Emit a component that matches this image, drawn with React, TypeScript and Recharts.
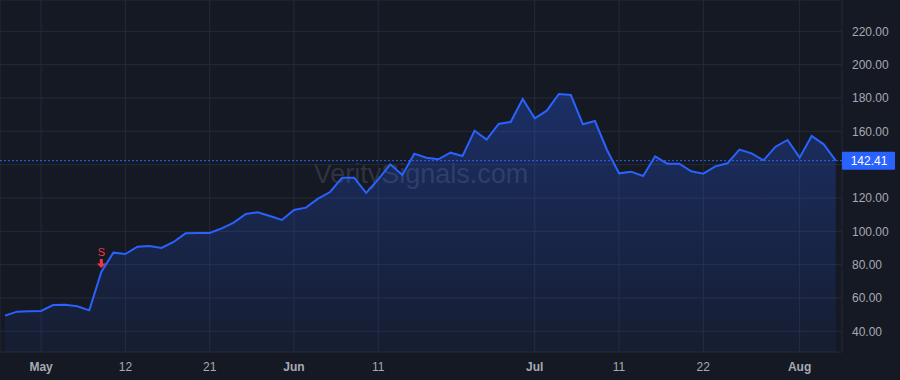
import { ComposedChart, Area, XAxis, YAxis, CartesianGrid, ReferenceLine, ReferenceDot } from 'recharts';

// trading days, Apr 28 - Aug 6
const dates = [
    '04-28', '04-29', '04-30', '05-01', '05-02', '05-05', '05-06', '05-07', '05-08', '05-09',
    '05-12', '05-13', '05-14', '05-15', '05-16', '05-19', '05-20', '05-21', '05-22', '05-23',
    '05-27', '05-28', '05-29', '05-30', '06-02', '06-03', '06-04', '06-05', '06-06', '06-09',
    '06-10', '06-11', '06-12', '06-13', '06-16', '06-17', '06-18', '06-20', '06-23', '06-24',
    '06-25', '06-26', '06-27', '06-30', '07-01', '07-02', '07-03', '07-07', '07-08', '07-09',
    '07-10', '07-11', '07-14', '07-15', '07-16', '07-17', '07-18', '07-21', '07-22', '07-23',
    '07-24', '07-25', '07-28', '07-29', '07-30', '07-31', '08-01', '08-04', '08-05', '08-06',
];

const prices = [
    49.4, 51.8, 52.0, 52.2, 55.8, 56.0, 55.0, 52.6, 75.6, 87.2,
    86.4, 90.8, 91.2, 90.0, 93.6, 98.8, 99.0, 99.0, 101.8, 105.2,
    110.4, 111.4, 109.2, 106.8, 112.8, 114.2, 119.6, 123.6, 132.2, 132.2,
    123.0, 131.2, 140.2, 133.8, 146.6, 144.2, 143.2, 147.2, 145.2, 160.4,
    155.0, 164.4, 165.6, 179.4, 167.8, 172.4, 182.4, 181.8, 164.2, 166.2,
    148.8, 134.8, 135.8, 133.2, 145.0, 140.6, 140.6, 136.0, 134.6, 139.0,
    140.8, 149.0, 146.8, 142.6, 150.8, 154.8, 144.2, 157.2, 152.2, 142.41,
];

const tickDates = ['05-01', '05-12', '05-21', '06-02', '06-11', '07-01', '07-11', '07-22', '08-01'];
const tickLabels = ['May', '12', '21', 'Jun', '11', 'Jul', '11', '22', 'Aug'];
const monthLabels = ['May', 'Jun', 'Jul', 'Aug'];
const yTicks = [40, 60, 80, 100, 120, 140, 160, 180, 200, 220];

const signalDate = '05-08';
const signalText = 'S';
const watermark = 'VeritySignals.com';

const data = dates.map((d, i) => ({ i, date: d, price: prices[i] }));
const xTicks = tickDates.map((d) => dates.indexOf(d));
const lastPrice = prices[prices.length - 1];
const signalIdx = dates.indexOf(signalDate);

const BG = '#151924';
const GRID = '#262a36';
const BLUE = '#2962ff';
const TEXT = '#a6a9b2';
const FONT = '"Liberation Sans", Arial, sans-serif';

function XTick({ x, y, payload }: any) {
    const label = tickLabels[xTicks.indexOf(payload.value)] ?? '';
    const bold = monthLabels.includes(label);
    return (
        <text x={x} y={y + 2} dy="0.71em" textAnchor="middle" fill={TEXT}
            fontSize={12} fontFamily={FONT} fontWeight={bold ? 700 : 400}>
            {label}
        </text>
    );
}

function YTick({ x, y, payload }: any) {
    // the last-price tag covers labels that sit under it
    if (Math.abs(payload.value - lastPrice) < 8) return null;
    return (
        <text x={x + 2} y={y} dy="0.355em" textAnchor="start" fill={TEXT} fontSize={12} fontFamily={FONT}>
            {Number(payload.value).toFixed(2)}
        </text>
    );
}

function PriceTag({ viewBox }: any) {
    const x = viewBox.x + viewBox.width;
    const y = viewBox.y;
    return (
        <g>
            <rect x={x} y={y - 9} width={53} height={18} fill={BLUE} rx={1} />
            <text x={x + 27} y={y} dy="0.355em" textAnchor="middle" fill="#ffffff" fontSize={12} fontFamily={FONT}>
                {lastPrice.toFixed(2)}
            </text>
        </g>
    );
}

function SignalMark({ cx, cy }: any) {
    if (cx == null || cy == null) return null;
    return (
        <g>
            <text x={cx} y={cy - 16.5} textAnchor="middle" fill="#f23645" fontSize={11} fontFamily={FONT}>
                {signalText}
            </text>
            <rect x={cx - 1.5} y={cy - 13} width={3} height={5} fill="#f23645" />
            <polygon points={`${cx - 4.5},${cy - 8.5} ${cx + 4.5},${cy - 8.5} ${cx},${cy - 4}`} fill="#f23645" />
        </g>
    );
}

export default function App() {
    return (
        <div style={{ position: 'relative', width: 900, height: 380, background: BG, overflow: 'hidden' }}>
            <style>{'body{margin:0}'}</style>
            <svg width={900} height={380} style={{ position: 'absolute', left: 0, top: 0 }}>
                <text x={421} y={183} textAnchor="middle" fill="rgba(170,174,186,0.2)" fontSize={27} fontFamily={FONT}>
                    {watermark}
                </text>
            </svg>
            <div style={{ position: 'absolute', left: 0, top: 0 }}>
                <ComposedChart width={900} height={380} data={data} margin={{ top: 0, right: 0, bottom: 0, left: 0 }}>
                    <defs>
                        <linearGradient id="fillGrad" x1="0" y1="0" x2="0" y2="1">
                            <stop offset="0%" stopColor={BLUE} stopOpacity={0.3} />
                            <stop offset="100%" stopColor={BLUE} stopOpacity={0.06} />
                        </linearGradient>
                    </defs>
                    <CartesianGrid stroke={GRID} strokeWidth={1} />
                    <XAxis
                        dataKey="i"
                        type="number"
                        domain={[-0.415, 69.52]}
                        allowDataOverflow
                        ticks={xTicks}
                        interval={0}
                        height={28}
                        axisLine={false}
                        tickLine={false}
                        tick={<XTick />}
                    />
                    <YAxis
                        orientation="right"
                        domain={[27.6, 238.8]}
                        allowDataOverflow
                        ticks={yTicks}
                        interval={0}
                        width={58}
                        axisLine={false}
                        tickLine={false}
                        tick={<YTick />}
                    />
                    <Area
                        type="linear"
                        dataKey="price"
                        stroke={BLUE}
                        strokeWidth={2}
                        fill="url(#fillGrad)"
                        fillOpacity={1}
                        dot={false}
                        activeDot={false}
                        isAnimationActive={false}
                    />
                    <ReferenceLine
                        y={lastPrice}
                        stroke={BLUE}
                        strokeWidth={1}
                        strokeDasharray="2 2"
                        label={<PriceTag />}
                    />
                    <ReferenceDot x={signalIdx} y={prices[signalIdx]} r={0} shape={<SignalMark />} />
                </ComposedChart>
            </div>
        </div>
    );
}
